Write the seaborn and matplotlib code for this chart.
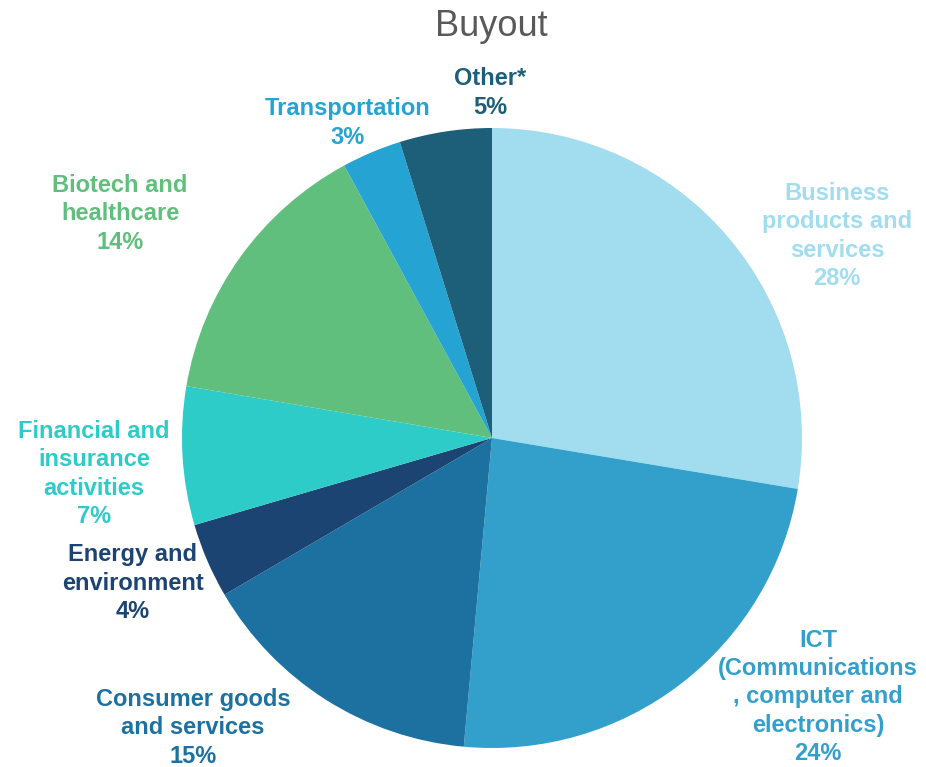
import matplotlib
matplotlib.use("Agg")
import matplotlib.pyplot as plt
import seaborn as sns

sns.set_theme(style="white")
plt.rcParams['font.family'] = ['Liberation Sans', 'DejaVu Sans']

# ---- data ----
categories = [
    "Business\nproducts and\nservices",
    "ICT\n(Communications\n, computer and\nelectronics)",
    "Consumer goods\nand services",
    "Energy and\nenvironment",
    "Financial and\ninsurance\nactivities",
    "Biotech and\nhealthcare",
    "Transportation",
    "Other*",
]
shares = [27.6, 23.8, 15.1, 3.9, 7.2, 14.4, 3.1, 4.8]
colors = ["#A2DCEF", "#33A0CC", "#1D71A0", "#1C4472",
          "#2ECCC8", "#60BF7C", "#25A4D3", "#1D5F79"]
title = "Buyout"

# label centres in pixel coordinates of the figure (layout only)
label_px = [(837, 236), (818, 697), (193, 728), (133, 583),
            (94, 474), (120, 214), (348, 123), (490, 93)]

W, H = 926, 767
fig = plt.figure(figsize=(W / 100, H / 100), dpi=100)
cx, cy, r = 492, 438, 310
ax = fig.add_axes([(cx - r) / W, (H - (cy + r)) / H, 2 * r / W, 2 * r / H])

palette = sns.color_palette(colors)
ax.pie(shares, colors=palette, startangle=90, counterclock=False,
       radius=1, wedgeprops=dict(linewidth=0))
ax.set_xlim(-1, 1)
ax.set_ylim(-1, 1)
ax.axis("off")

total = sum(shares)
for cat, val, col, (px, py) in zip(categories, shares, palette, label_px):
    txt = f"{cat}\n{round(val / total * 100):d}%"
    fig.text(px / W, 1 - py / H, txt, ha="center", va="center",
             color=col, fontsize=17, fontweight="bold", linespacing=1.3)

fig.text(491 / W, 1 - 27 / H, title, ha="center", va="center",
         color="#595959", fontsize=26)

fig.savefig("out.png", dpi=100)
